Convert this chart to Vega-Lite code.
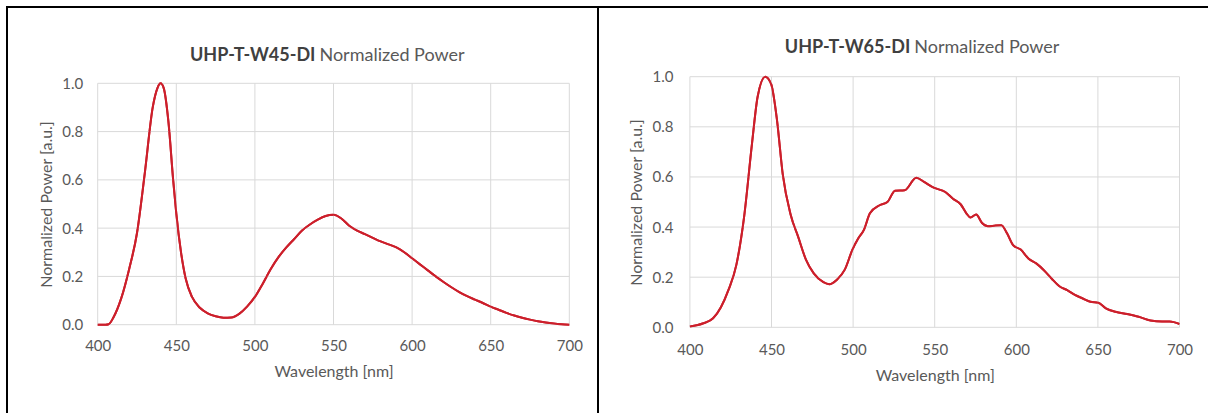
{
  "$schema": "https://vega.github.io/schema/vega-lite/v6.json",
  "padding": {"left": 6, "top": 6, "right": 0, "bottom": 0},
  "background": "white",
  "spacing": 0,
  "bounds": "flush",
  "datasets": {
    "w45": [
      {"wl": 400, "p": 0}, {"wl": 405, "p": 0}, {"wl": 407, "p": 0.002}, {"wl": 410, "p": 0.03},
      {"wl": 415, "p": 0.11}, {"wl": 420, "p": 0.23}, {"wl": 425, "p": 0.38}, {"wl": 430, "p": 0.63},
      {"wl": 435, "p": 0.9}, {"wl": 438, "p": 0.98}, {"wl": 440, "p": 1.0}, {"wl": 442, "p": 0.98},
      {"wl": 445, "p": 0.84}, {"wl": 448, "p": 0.6}, {"wl": 450, "p": 0.46}, {"wl": 453, "p": 0.3},
      {"wl": 456, "p": 0.19}, {"wl": 460, "p": 0.115}, {"wl": 465, "p": 0.07}, {"wl": 470, "p": 0.047},
      {"wl": 475, "p": 0.035}, {"wl": 480, "p": 0.029}, {"wl": 485, "p": 0.03}, {"wl": 490, "p": 0.045},
      {"wl": 495, "p": 0.075}, {"wl": 500, "p": 0.115}, {"wl": 505, "p": 0.17}, {"wl": 510, "p": 0.23},
      {"wl": 515, "p": 0.28}, {"wl": 520, "p": 0.32}, {"wl": 525, "p": 0.355}, {"wl": 530, "p": 0.39},
      {"wl": 535, "p": 0.415}, {"wl": 540, "p": 0.435}, {"wl": 545, "p": 0.45}, {"wl": 550, "p": 0.455},
      {"wl": 555, "p": 0.44}, {"wl": 560, "p": 0.41}, {"wl": 565, "p": 0.39}, {"wl": 570, "p": 0.375},
      {"wl": 575, "p": 0.36}, {"wl": 580, "p": 0.345}, {"wl": 585, "p": 0.333}, {"wl": 590, "p": 0.32},
      {"wl": 595, "p": 0.3}, {"wl": 600, "p": 0.275}, {"wl": 605, "p": 0.25}, {"wl": 610, "p": 0.225},
      {"wl": 615, "p": 0.2}, {"wl": 620, "p": 0.177}, {"wl": 625, "p": 0.155}, {"wl": 630, "p": 0.135},
      {"wl": 635, "p": 0.118}, {"wl": 640, "p": 0.104}, {"wl": 645, "p": 0.09}, {"wl": 650, "p": 0.075},
      {"wl": 655, "p": 0.062}, {"wl": 660, "p": 0.049}, {"wl": 665, "p": 0.038}, {"wl": 670, "p": 0.029},
      {"wl": 675, "p": 0.021}, {"wl": 680, "p": 0.014}, {"wl": 685, "p": 0.009}, {"wl": 690, "p": 0.005},
      {"wl": 695, "p": 0.002}, {"wl": 700, "p": 0}
    ],
    "w65": [
      {"wl": 400, "p": 0.003}, {"wl": 408.3, "p": 0.016}, {"wl": 414.2, "p": 0.036}, {"wl": 419, "p": 0.08},
      {"wl": 423.7, "p": 0.15}, {"wl": 428.5, "p": 0.25}, {"wl": 433.2, "p": 0.44}, {"wl": 438, "p": 0.73},
      {"wl": 441.5, "p": 0.92}, {"wl": 446.2, "p": 1.0}, {"wl": 449.8, "p": 0.97}, {"wl": 453.4, "p": 0.825},
      {"wl": 456.9, "p": 0.61}, {"wl": 461.7, "p": 0.45}, {"wl": 466.4, "p": 0.36}, {"wl": 471.1, "p": 0.27},
      {"wl": 475.9, "p": 0.215}, {"wl": 481.8, "p": 0.18}, {"wl": 485.4, "p": 0.172}, {"wl": 490.1, "p": 0.19},
      {"wl": 494.9, "p": 0.23}, {"wl": 499.6, "p": 0.31}, {"wl": 503.2, "p": 0.355}, {"wl": 506.7, "p": 0.39},
      {"wl": 510.3, "p": 0.455}, {"wl": 516.2, "p": 0.487}, {"wl": 521, "p": 0.5}, {"wl": 525.7, "p": 0.545},
      {"wl": 531.6, "p": 0.547}, {"wl": 538.7, "p": 0.597}, {"wl": 543.5, "p": 0.58}, {"wl": 549.4, "p": 0.557},
      {"wl": 556.5, "p": 0.54}, {"wl": 561.2, "p": 0.513}, {"wl": 566, "p": 0.49}, {"wl": 569.5, "p": 0.454},
      {"wl": 571.9, "p": 0.438}, {"wl": 575.4, "p": 0.45}, {"wl": 579, "p": 0.416}, {"wl": 582.6, "p": 0.403},
      {"wl": 587.3, "p": 0.406}, {"wl": 590.8, "p": 0.407}, {"wl": 594.4, "p": 0.374}, {"wl": 598, "p": 0.328},
      {"wl": 602.7, "p": 0.31}, {"wl": 607.4, "p": 0.275}, {"wl": 612.2, "p": 0.255}, {"wl": 616.9, "p": 0.228},
      {"wl": 621.6, "p": 0.195}, {"wl": 626.4, "p": 0.164}, {"wl": 631.2, "p": 0.148}, {"wl": 635.9, "p": 0.129},
      {"wl": 640.7, "p": 0.115}, {"wl": 645.4, "p": 0.102}, {"wl": 650.2, "p": 0.098}, {"wl": 654.9, "p": 0.076},
      {"wl": 660.8, "p": 0.062}, {"wl": 667.9, "p": 0.053}, {"wl": 675, "p": 0.042}, {"wl": 682.2, "p": 0.027},
      {"wl": 689.3, "p": 0.023}, {"wl": 694, "p": 0.023}, {"wl": 700, "p": 0.013}
    ],
    "gx": [{"g": 400}, {"g": 450}, {"g": 500}, {"g": 550}, {"g": 600}, {"g": 650}, {"g": 700}],
    "gy": [{"h": 0}, {"h": 0.2}, {"h": 0.4}, {"h": 0.6}, {"h": 0.8}, {"h": 1.0}],
    "t45": [{"bold": "UHP-T-W45-DI", "rest": "Normalized Power", "tx": 538.5, "ty": 1.113}],
    "t65": [{"bold": "UHP-T-W65-DI", "rest": "Normalized Power", "tx": 535, "ty": 1.116}]
  },
  "hconcat": [
    {
      "width": 591,
      "height": 420,
      "layer": [
        {
          "data": {"name": "w45"},
          "mark": {"type": "line", "color": "#cc1f2b", "strokeWidth": 2, "interpolate": "monotone"},
          "encoding": {
            "x": {"field": "wl", "type": "quantitative",
              "scale": {"domain": [400, 700], "range": [90.7, 562.3], "nice": false, "zero": false},
              "axis": {"orient": "bottom", "offset": -102.3, "values": [400, 450, 500, 550, 600, 650, 700],
                "grid": false, "domain": false, "ticks": false, "tickSize": 0, "labelPadding": 14,
                "title": "Wavelength [nm]", "titlePadding": 10}},
            "y": {"field": "p", "type": "quantitative",
              "scale": {"domain": [0, 1], "range": [317.7, 76.3], "nice": false, "zero": false},
              "axis": {"orient": "left", "offset": -90.7, "values": [0, 0.2, 0.4, 0.6, 0.8, 1.0], "format": ".1f",
                "grid": false, "domain": false, "ticks": false, "tickSize": 0, "labelPadding": 15,
                "title": "Normalized Power [a.u.]", "titlePadding": 7}}
          }
        },
        {
          "data": {"name": "gx"},
          "mark": {"type": "rule", "color": "#d9d9d9", "strokeWidth": 1},
          "encoding": {
            "x": {"field": "g", "type": "quantitative"},
            "y": {"datum": 0, "type": "quantitative"},
            "y2": {"datum": 1}
          }
        },
        {
          "data": {"name": "gy"},
          "mark": {"type": "rule", "color": "#d9d9d9", "strokeWidth": 1},
          "encoding": {
            "y": {"field": "h", "type": "quantitative"},
            "x": {"datum": 400, "type": "quantitative"},
            "x2": {"datum": 700}
          }
        },
        {
          "data": {"name": "w45"},
          "mark": {"type": "line", "color": "#cc1f2b", "strokeWidth": 2, "interpolate": "monotone"},
          "encoding": {
            "x": {"field": "wl", "type": "quantitative"},
            "y": {"field": "p", "type": "quantitative"}
          }
        },
        {
          "data": {"name": "t45"},
          "mark": {"type": "text", "align": "right", "baseline": "middle", "font": "Lato", "fontSize": 18, "fontWeight": "bold", "color": "#404040"},
          "encoding": {
            "x": {"field": "tx", "type": "quantitative"},
            "y": {"field": "ty", "type": "quantitative"},
            "text": {"field": "bold"}
          }
        },
        {
          "data": {"name": "t45"},
          "mark": {"type": "text", "align": "left", "baseline": "middle", "dx": 4, "font": "Lato", "fontSize": 18, "color": "#595959"},
          "encoding": {
            "x": {"field": "tx", "type": "quantitative"},
            "y": {"field": "ty", "type": "quantitative"},
            "text": {"field": "rest"}
          }
        }
      ]
    },
    {
      "width": 625,
      "height": 420,
      "layer": [
        {
          "data": {"name": "w65"},
          "mark": {"type": "line", "color": "#cc1f2b", "strokeWidth": 2, "interpolate": "monotone"},
          "encoding": {
            "x": {"field": "wl", "type": "quantitative",
              "scale": {"domain": [400, 700], "range": [91.9, 581.5], "nice": false, "zero": false},
              "axis": {"orient": "bottom", "offset": -99.7, "values": [400, 450, 500, 550, 600, 650, 700],
                "grid": false, "domain": false, "ticks": false, "tickSize": 0, "labelPadding": 15,
                "title": "Wavelength [nm]", "titlePadding": 10}},
            "y": {"field": "p", "type": "quantitative",
              "scale": {"domain": [0, 1], "range": [320.3, 69.7], "nice": false, "zero": false},
              "axis": {"orient": "left", "offset": -91.9, "values": [0, 0.2, 0.4, 0.6, 0.8, 1.0], "format": ".1f",
                "grid": false, "domain": false, "ticks": false, "tickSize": 0, "labelPadding": 17,
                "title": "Normalized Power [a.u.]", "titlePadding": 7}}
          }
        },
        {
          "data": {"name": "gx"},
          "mark": {"type": "rule", "color": "#d9d9d9", "strokeWidth": 1},
          "encoding": {
            "x": {"field": "g", "type": "quantitative"},
            "y": {"datum": 0, "type": "quantitative"},
            "y2": {"datum": 1}
          }
        },
        {
          "data": {"name": "gy"},
          "mark": {"type": "rule", "color": "#d9d9d9", "strokeWidth": 1},
          "encoding": {
            "y": {"field": "h", "type": "quantitative"},
            "x": {"datum": 400, "type": "quantitative"},
            "x2": {"datum": 700}
          }
        },
        {
          "data": {"name": "w65"},
          "mark": {"type": "line", "color": "#cc1f2b", "strokeWidth": 2, "interpolate": "monotone"},
          "encoding": {
            "x": {"field": "wl", "type": "quantitative"},
            "y": {"field": "p", "type": "quantitative"}
          }
        },
        {
          "data": {"name": "t65"},
          "mark": {"type": "text", "align": "right", "baseline": "middle", "font": "Lato", "fontSize": 18, "fontWeight": "bold", "color": "#404040"},
          "encoding": {
            "x": {"field": "tx", "type": "quantitative"},
            "y": {"field": "ty", "type": "quantitative"},
            "text": {"field": "bold"}
          }
        },
        {
          "data": {"name": "t65"},
          "mark": {"type": "text", "align": "left", "baseline": "middle", "dx": 4, "font": "Lato", "fontSize": 18, "color": "#595959"},
          "encoding": {
            "x": {"field": "tx", "type": "quantitative"},
            "y": {"field": "ty", "type": "quantitative"},
            "text": {"field": "rest"}
          }
        }
      ]
    }
  ],
  "config": {
    "view": {"stroke": "black", "strokeWidth": 2},
    "axis": {
      "labelFont": "Lato", "labelFontSize": 15, "labelColor": "#595959", "labelFlush": false, "labelOverlap": false,
      "titleFont": "Lato", "titleFontSize": 16, "titleFontWeight": "normal", "titleColor": "#595959"
    }
  }
}
